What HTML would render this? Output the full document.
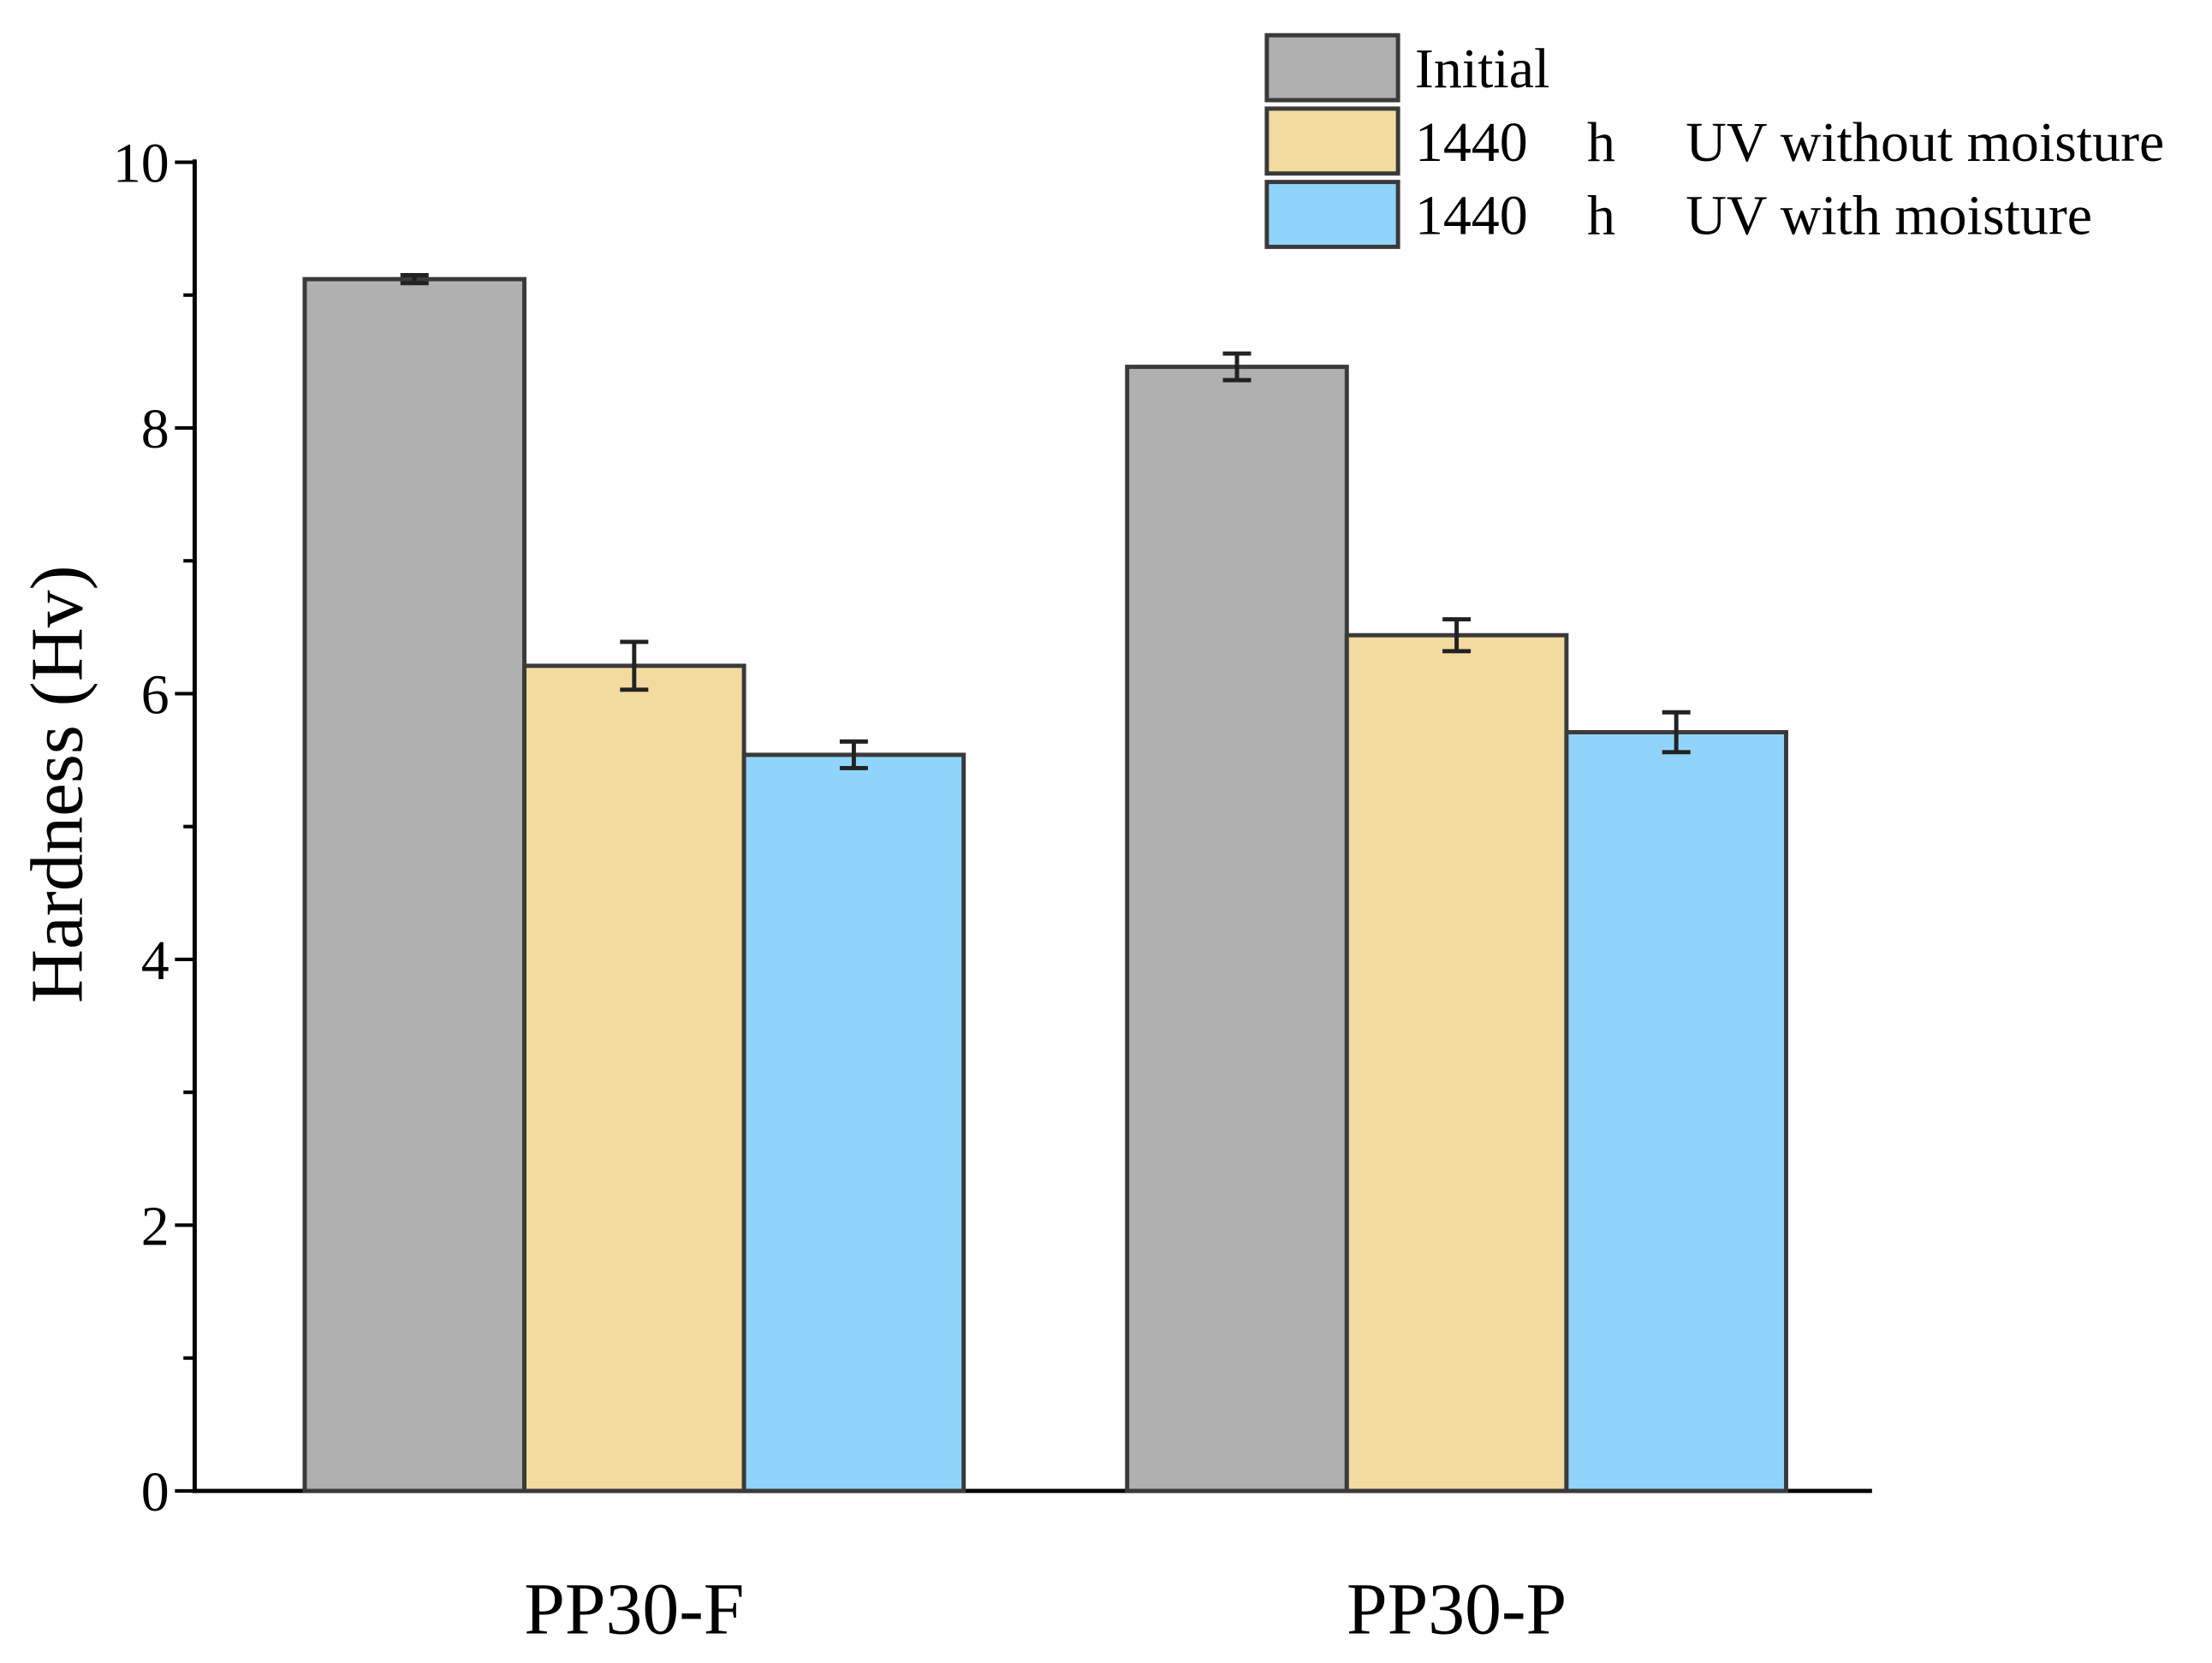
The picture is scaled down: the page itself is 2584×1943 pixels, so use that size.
<!DOCTYPE html>
<html><head><meta charset="utf-8"><style>
html,body{margin:0;padding:0;background:#fff;}
svg{display:block;font-family:"Liberation Serif",serif;}
</style></head><body>
<svg id="chart" width="2584" height="1943" viewBox="0 0 1568 1179" preserveAspectRatio="none" xmlns="http://www.w3.org/2000/svg">
<g id="axes"></g><g id="bars"></g><g id="legend"></g>
</svg>
<script>
const categories = ["PP30-F", "PP30-P"];
const seriesNames = ["Initial", "1440 h UV without moisture", "1440 h UV with moisture"];
const initialValues = [9.12, 8.46];
const initialErrors = [0.03, 0.1];
const uvDryValues = [6.21, 6.44];
const uvDryErrors = [0.18, 0.12];
const uvWetValues = [5.54, 5.71];
const uvWetErrors = [0.1, 0.15];
const yTicks = [0, 2, 4, 6, 8, 10];
const yTickLabels = ["0", "2", "4", "6", "8", "10"];

const NS = "http://www.w3.org/2000/svg";
const x0 = 138, x1 = 1327, y0 = 1057, yTop = 115;
const yScale = v => y0 - (v / 10) * (y0 - yTop);
const groupStart = [216, 799];
const barW = 155.7;
const xBar = (c, s) => groupStart[c] + s * barW;
const colors = ["#b0b0b0", "#f3dba0", "#90d4fc"];
const values = [initialValues, uvDryValues, uvWetValues];
const errors = [initialErrors, uvDryErrors, uvWetErrors];

function mk(tag, attrs, parent) {
  const e = document.createElementNS(NS, tag);
  for (const k in attrs) e.setAttribute(k, attrs[k]);
  parent.appendChild(e);
  return e;
}
const axes = document.getElementById("axes");
const bars = document.getElementById("bars");
const legend = document.getElementById("legend");

values.forEach((arr, s) => {
  arr.forEach((v, c) => {
    const r = mk("rect", {x: xBar(c, s), y: yScale(v), width: barW, height: y0 - yScale(v), fill: colors[s], stroke: "#3a3a3a", "stroke-width": 3}, bars);
    
    
    const cx = xBar(c, s) + barW / 2, e = errors[s][c];
    const g = mk("g", {stroke: "#222", "stroke-width": 3}, bars);
    
    
    mk("line", {x1: cx, x2: cx, y1: yScale(v + e), y2: yScale(v - e)}, g);
    mk("line", {x1: cx - 10, x2: cx + 10, y1: yScale(v + e), y2: yScale(v + e)}, g);
    mk("line", {x1: cx - 10, x2: cx + 10, y1: yScale(v - e), y2: yScale(v - e)}, g);
  });
});

const ya = mk("line", {x1: x0, x2: x0, y1: yTop - 2, y2: y0 + 1.5, stroke: "#000", "stroke-width": 3}, axes);


const xa = mk("line", {x1: x0 - 1.5, x2: x1, y1: y0, y2: y0, stroke: "#000", "stroke-width": 3}, axes);


for (let v = 1; v < 10; v += 2) {
  mk("line", {x1: x0 - 8, x2: x0, y1: yScale(v), y2: yScale(v), stroke: "#000", "stroke-width": 2.5}, axes);
}
yTicks.forEach((v, i) => {
  mk("line", {x1: x0 - 14, x2: x0, y1: yScale(v), y2: yScale(v), stroke: "#000", "stroke-width": 2.5}, axes);
  const t = mk("text", {x: x0 - 18, y: yScale(v) + 14, "text-anchor": "end", "font-size": 40}, axes);
  t.textContent = yTickLabels[i];
  
  
});
categories.forEach((c, i) => {
  const t = mk("text", {x: groupStart[i] + 1.5 * barW, y: 1158, "text-anchor": "middle", "font-size": 52}, axes);
  t.textContent = c;
  
  
});
const yt = mk("text", {x: 58, y: 556, "text-anchor": "middle", "font-size": 53, transform: "rotate(-90 58 556)"}, axes);
yt.textContent = "Hardness (Hv)";



const legTexts = [["Initial"], ["1440", "h", "UV without moisture"], ["1440", "h", "UV with moisture"]];
legTexts.forEach((parts, i) => {
  const y = 25 + i * 52;
  const sw = mk("rect", {x: 898, y: y, width: 93, height: 46, fill: colors[i], stroke: "#3a3a3a", "stroke-width": 3}, legend);
  
  
  const xs = parts.length === 1 ? [1003] : [1003, 1125, 1195];
  parts.forEach((p, j) => {
    const t = mk("text", {x: xs[j], y: y + 37, "font-size": 40}, legend);
    t.textContent = p;
    
    
  });
});
</script>
</body></html>
